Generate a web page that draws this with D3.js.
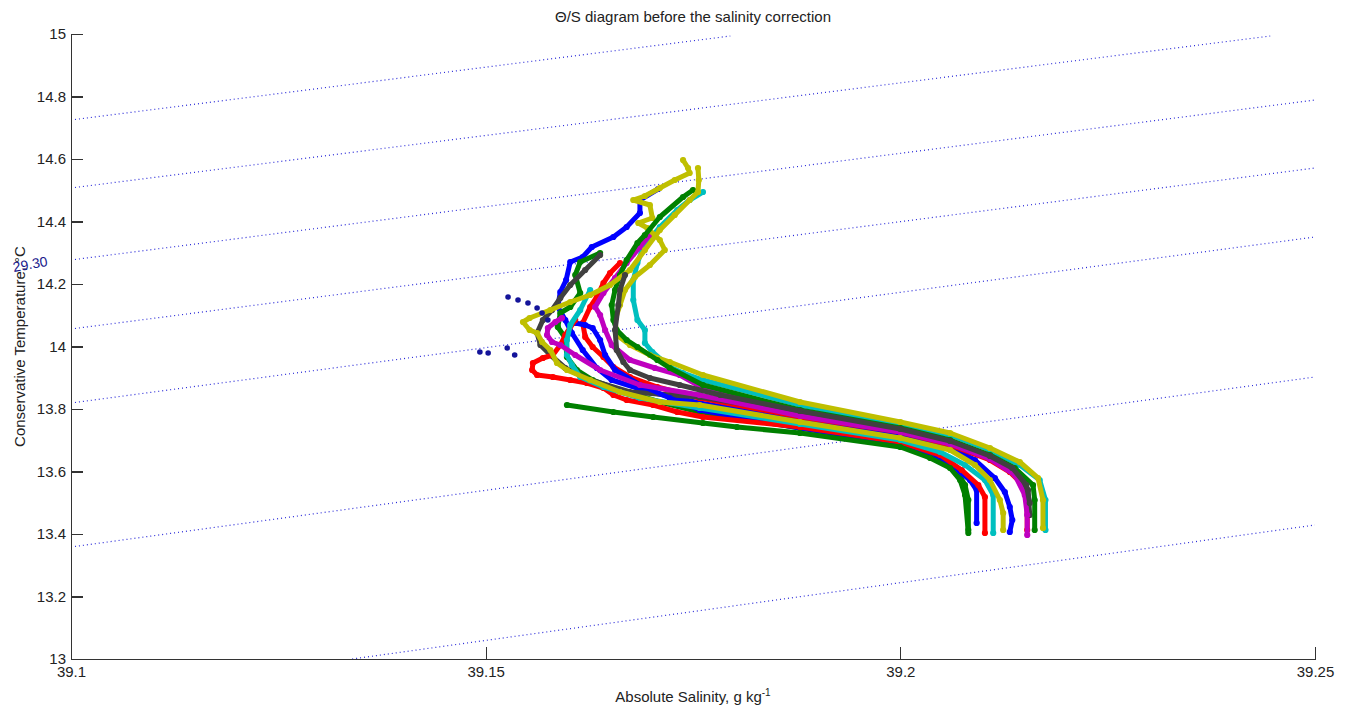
<!DOCTYPE html>
<html lang="en">

<head>
    <meta charset="UTF-8">
    <style type="text/css">
        body {
            margin: 0;
            background: #fff;
        }

        svg {
            display: block;
            font-family: "Liberation Sans", Arial, sans-serif;
        }

        .axis path,
        .axis line {
            fill: none;
            stroke: #333;
            stroke-width: 1.3;
            shape-rendering: crispEdges;
        }

        .axis text {
            font-family: "Liberation Sans", Arial, sans-serif;
            font-size: 15px;
            fill: #222;
        }

        .isopycnal {
            fill: none;
            stroke: #2a2ad8;
            stroke-width: 1.2;
            stroke-dasharray: 1, 3;
        }

        .profile {
            fill: none;
            stroke-width: 5;
            stroke-linejoin: round;
            stroke-linecap: round;
        }

        .label {
            font-size: 15px;
            fill: #222;
        }
    </style>
</head>

<body>
    <div class="main"></div>

    <script src="https://cdnjs.cloudflare.com/ajax/libs/d3/7.8.5/d3.min.js"></script>
    <script type="text/javascript">

        // axis ticks
        var xTicks = [39.1, 39.15, 39.2, 39.25];
        var yTicks = [13, 13.2, 13.4, 13.6, 13.8, 14, 14.2, 14.4, 14.6, 14.8, 15];

        // isopycnals [S, T] end points
        var isoA = [[39.1, 14.7248], [39.1795, 14.9936]];
        var isoB = [[39.1, 14.5072], [39.2446, 14.9936]];
        var isoC = [[39.1, 14.2768], [39.25, 14.7888]];
        var isoD = [[39.1, 14.0560], [39.25, 14.5712]];
        var isoE = [[39.1, 13.8192], [39.25, 14.3504]];
        var isoF = [[39.1, 13.3584], [39.25, 13.9024]];
        var isoG = [[39.1339, 13.0], [39.25, 13.4288]];
        var isoLabelPos = [39.0931, 14.2384];
        var isoLabelText = "29.30";

        // CTD profiles [S, T]
        var prof1 = [[39.1708, 14.5040], [39.1686, 14.4688], [39.1686, 14.4272], [39.1670, 14.3824], [39.1654, 14.3504], [39.1628, 14.3184], [39.1617, 14.2864], [39.1602, 14.2704], [39.1597, 14.2128], [39.1590, 14.1744], [39.1587, 14.1264], [39.1596, 14.0848], [39.1604, 14.0432], [39.1617, 13.9888], [39.1634, 13.9312], [39.1652, 13.8928], [39.1698, 13.8544], [39.1758, 13.8192], [39.1879, 13.7648], [39.2000, 13.7136], [39.2060, 13.6784], [39.2090, 13.6368], [39.2114, 13.5792], [39.2126, 13.5344], [39.2132, 13.4864], [39.2135, 13.4448], [39.2132, 13.4064]];
        var prof2 = [[39.1638, 14.2992], [39.1614, 14.2704], [39.1608, 14.2288], [39.1614, 14.1712], [39.1602, 14.1264], [39.1590, 14.1072], [39.1587, 14.0624], [39.1596, 14.0272], [39.1598, 13.9664], [39.1610, 13.9248], [39.1629, 13.8928], [39.1662, 13.8608], [39.1710, 13.8224], [39.1758, 13.7904], [39.1879, 13.7392], [39.2000, 13.6880], [39.2042, 13.6528], [39.2066, 13.6112], [39.2078, 13.5568], [39.2082, 13.5088], [39.2082, 13.4128]];
        var prof3 = [[39.1662, 14.2672], [39.1650, 14.2352], [39.1642, 14.2032], [39.1634, 14.1584], [39.1626, 14.1264], [39.1617, 14.0752], [39.1620, 14.0304], [39.1629, 13.9984], [39.1642, 13.9664], [39.1654, 13.9344], [39.1674, 13.9024], [39.1707, 13.8704], [39.1743, 13.8448], [39.1758, 13.8352], [39.1879, 13.7744], [39.2000, 13.7264], [39.2060, 13.6848], [39.2108, 13.6368], [39.2132, 13.5984], [39.2148, 13.5568], [39.2153, 13.5088], [39.2153, 13.4128]];
        var prof4 = [[39.1762, 14.4944], [39.1746, 14.4688], [39.1731, 14.4368], [39.1710, 14.3824], [39.1690, 14.3184], [39.1683, 14.2672], [39.1678, 14.2128], [39.1678, 14.1488], [39.1683, 14.0848], [39.1692, 14.0528], [39.1692, 14.0112], [39.1701, 13.9824], [39.1722, 13.9344], [39.1738, 13.9152], [39.1762, 13.8928], [39.1879, 13.8128], [39.2000, 13.7488], [39.2060, 13.7168], [39.2108, 13.6688], [39.2144, 13.6208], [39.2168, 13.5728], [39.2175, 13.5088], [39.2175, 13.4128]];
        var prof5 = [[39.1698, 14.3568], [39.1686, 14.3184], [39.1670, 14.2672], [39.1656, 14.2192], [39.1642, 14.1712], [39.1632, 14.1264], [39.1638, 14.1008], [39.1644, 14.0528], [39.1652, 14.0048], [39.1674, 13.9568], [39.1704, 13.9312], [39.1734, 13.9088], [39.1762, 13.8672], [39.1879, 13.7808], [39.2000, 13.7296], [39.2060, 13.6912], [39.2108, 13.6432], [39.2132, 13.6048], [39.2148, 13.5632], [39.2153, 13.5088], [39.2153, 13.3968]];
        var prof6 = [[39.1738, 14.5968], [39.1744, 14.5712], [39.1746, 14.5552], [39.1728, 14.5328], [39.1710, 14.5072], [39.1692, 14.4816], [39.1678, 14.4688], [39.1698, 14.4528], [39.1701, 14.4112], [39.1684, 14.3952], [39.1695, 14.3792], [39.1710, 14.3408], [39.1716, 14.3088], [39.1698, 14.2608], [39.1680, 14.2224], [39.1668, 14.1808], [39.1662, 14.1328], [39.1656, 14.0848], [39.1658, 14.0368], [39.1674, 14.0048], [39.1698, 13.9728], [39.1722, 13.9504], [39.1762, 13.9088], [39.1879, 13.8224], [39.2000, 13.7584], [39.2060, 13.7232], [39.2108, 13.6752], [39.2144, 13.6304], [39.2166, 13.5792], [39.2172, 13.5088], [39.2172, 13.4192]];
        var prof7 = [[39.1638, 14.2928], [39.1620, 14.2448], [39.1602, 14.1968], [39.1590, 14.1552], [39.1580, 14.1168], [39.1569, 14.0848], [39.1562, 14.0432], [39.1566, 14.0048], [39.1578, 13.9728], [39.1596, 13.9312], [39.1626, 13.8928], [39.1674, 13.8544], [39.1758, 13.8384], [39.1879, 13.7872], [39.2000, 13.7328], [39.2060, 13.6944], [39.2108, 13.6464], [39.2135, 13.6048], [39.2154, 13.5408], [39.2156, 13.4608]];
        var prof8 = [[39.1608, 14.0752], [39.1620, 14.0688], [39.1629, 14.0592], [39.1638, 14.0208], [39.1644, 13.9728], [39.1656, 13.9248], [39.1686, 13.8768], [39.1722, 13.8352], [39.1758, 13.7968], [39.1879, 13.7392], [39.2000, 13.6912], [39.2042, 13.6528], [39.2066, 13.6112], [39.2084, 13.5728], [39.2092, 13.5408], [39.2092, 13.4352]];
        var prof9 = [[39.1750, 14.5008], [39.1738, 14.4784], [39.1710, 14.4144], [39.1692, 14.3568], [39.1683, 14.3312], [39.1670, 14.2768], [39.1662, 14.2288], [39.1656, 14.1808], [39.1652, 14.1328], [39.1654, 14.0848], [39.1658, 14.0528], [39.1670, 14.0208], [39.1683, 13.9984], [39.1707, 13.9568], [39.1722, 13.9312], [39.1762, 13.8768], [39.1879, 13.7968], [39.2000, 13.7392], [39.2060, 13.7008], [39.2108, 13.6528], [39.2138, 13.6112], [39.2160, 13.5568], [39.2162, 13.5088], [39.2162, 13.4128]];
        var prof10 = [[39.1608, 14.0848], [39.1596, 14.0368], [39.1590, 14.0048], [39.1581, 13.9728], [39.1569, 13.9632], [39.1557, 13.9472], [39.1556, 13.9248], [39.1562, 13.9088], [39.1581, 13.9024], [39.1602, 13.8928], [39.1622, 13.8832], [39.1642, 13.8672], [39.1654, 13.8448], [39.1670, 13.8288], [39.1702, 13.8128], [39.1731, 13.7904], [39.1762, 13.7744], [39.1879, 13.7424], [39.2000, 13.6944], [39.2048, 13.6528], [39.2074, 13.6048], [39.2094, 13.5568], [39.2102, 13.5184], [39.2102, 13.4032]];
        var prof11 = [[39.1626, 14.1808], [39.1614, 14.1168], [39.1602, 14.0688], [39.1598, 14.0208], [39.1598, 13.9728], [39.1604, 13.9408], [39.1614, 13.9024], [39.1642, 13.8704], [39.1686, 13.8352], [39.1758, 13.8032], [39.1879, 13.7520], [39.2000, 13.7008], [39.2048, 13.6624], [39.2078, 13.6208], [39.2102, 13.5728], [39.2112, 13.5248], [39.2112, 13.4032]];
        var prof12 = [[39.1592, 14.0912], [39.1584, 14.0784], [39.1575, 14.0592], [39.1574, 14.0368], [39.1580, 14.0144], [39.1590, 14.0048], [39.1608, 13.9728], [39.1638, 13.9248], [39.1686, 13.8768], [39.1758, 13.8448], [39.1879, 13.7776], [39.2000, 13.7264], [39.2060, 13.6880], [39.2108, 13.6400], [39.2138, 13.5888], [39.2150, 13.5248], [39.2153, 13.4608]];
        var prof13 = [[39.1756, 14.5712], [39.1757, 14.5328], [39.1756, 14.4944], [39.1746, 14.4688], [39.1728, 14.4208], [39.1710, 14.3728], [39.1692, 14.3088], [39.1674, 14.2448], [39.1650, 14.1968], [39.1626, 14.1648], [39.1602, 14.1424], [39.1578, 14.1168], [39.1553, 14.0912], [39.1545, 14.0784], [39.1553, 14.0528], [39.1562, 14.0432], [39.1568, 14.0144], [39.1578, 13.9888], [39.1586, 13.9472], [39.1598, 13.9248], [39.1626, 13.8928], [39.1662, 13.8544], [39.1710, 13.8224], [39.1758, 13.8128], [39.1879, 13.7584], [39.2000, 13.7072], [39.2060, 13.6688], [39.2090, 13.6208], [39.2108, 13.5728], [39.2120, 13.5088], [39.2124, 13.4672], [39.2124, 13.4128]];
        var prof14 = [[39.1668, 14.2288], [39.1662, 14.1808], [39.1660, 14.1328], [39.1656, 14.0528], [39.1658, 13.9888], [39.1666, 13.9504], [39.1674, 13.9248], [39.1698, 13.8992], [39.1734, 13.8768], [39.1783, 13.8448], [39.1879, 13.7936], [39.2000, 13.7360], [39.2060, 13.6976], [39.2108, 13.6496], [39.2135, 13.6112], [39.2152, 13.5568], [39.2156, 13.4992]];
        var prof15 = [[39.1598, 13.8128], [39.1654, 13.7904], [39.1702, 13.7744], [39.1762, 13.7552], [39.1803, 13.7424], [39.1879, 13.7232], [39.2000, 13.6784], [39.2036, 13.6432], [39.2060, 13.6112], [39.2072, 13.5728], [39.2078, 13.5248], [39.2082, 13.4032]];

        // scattered surface points (no line)
        var surfaceDots = [[39.1527, 14.1584], [39.1539, 14.1488], [39.1551, 14.1392], [39.1562, 14.1232], [39.1568, 14.1072], [39.1575, 14.0848], [39.1493, 13.9824], [39.1503, 13.9792], [39.1526, 13.9952], [39.1535, 13.9728]];

        // matlab style colours, one per profile
        var profileColors = ["#0000ff", "#008000", "#ff0000", "#00bfbf", "#bf00bf", "#bfbf00", "#404040",
            "#0000ff", "#008000", "#ff0000", "#00bfbf", "#bf00bf", "#bfbf00", "#404040", "#008000"];

        var isopycnals = [isoA, isoB, isoC, isoD, isoE, isoF, isoG];
        var profiles = [prof1, prof2, prof3, prof4, prof5, prof6, prof7, prof8, prof9, prof10, prof11, prof12, prof13, prof14, prof15];

        var margin = { top: 34, right: 31, bottom: 49, left: 71 },
            width = 1346 - margin.left - margin.right,
            height = 708 - margin.top - margin.bottom;

        var svg = d3.select(".main").append("svg")
            .attr("width", width + margin.left + margin.right)
            .attr("height", height + margin.top + margin.bottom)
            .append("g")
            .attr("transform", "translate(" + margin.left + "," + margin.top + ")");

        var x = d3.scaleLinear().domain([39.1, 39.25]).range([0, width]);
        var y = d3.scaleLinear().domain([13, 15]).range([height, 0]);

        var line = d3.line()
            .x(function (d) { return x(d[0]); })
            .y(function (d) { return y(d[1]); });

        // isopycnals
        svg.selectAll(".isopycnal")
            .data(isopycnals)
            .enter().append("path")
            .attr("class", "isopycnal")
            .attr("d", line);

        // profiles, line under the dot markers
        var prof = svg.selectAll(".prof")
            .data(profiles)
            .enter().append("g")
            .attr("class", "prof")
            .style("fill", function (d, i) { return profileColors[i]; })
            .style("stroke", function (d, i) { return profileColors[i]; });

        prof.append("path")
            .attr("class", "profile")
            .attr("d", line);

        prof.selectAll("circle")
            .data(function (d) { return d; })
            .enter().append("circle")
            .attr("cx", function (d) { return x(d[0]); })
            .attr("cy", function (d) { return y(d[1]); })
            .attr("r", 3.1)
            .style("stroke", "none");

        svg.selectAll(".sdot")
            .data(surfaceDots)
            .enter().append("circle")
            .attr("class", "sdot")
            .attr("cx", function (d) { return x(d[0]); })
            .attr("cy", function (d) { return y(d[1]); })
            .attr("r", 2.8)
            .style("fill", "#14149a");

        // axes, ticks point inward
        var xAxis = d3.axisBottom(x)
            .tickValues(xTicks)
            .tickSizeInner(-12)
            .tickSizeOuter(0)
            .tickPadding(7)
            .tickFormat(function (d) { return String(+d.toFixed(2)); });

        var yAxis = d3.axisLeft(y)
            .tickValues(yTicks)
            .tickSizeInner(-12)
            .tickSizeOuter(0)
            .tickPadding(5)
            .tickFormat(function (d) { return String(+d.toFixed(1)); });

        svg.append("g")
            .attr("class", "axis")
            .attr("transform", "translate(0," + height + ")")
            .call(xAxis);

        svg.append("g")
            .attr("class", "axis")
            .call(yAxis);

        // titles
        svg.append("text")
            .attr("class", "label")
            .attr("x", width / 2)
            .attr("y", -12)
            .attr("text-anchor", "middle")
            .text("\u0398/S diagram before the salinity correction");

        var xl = svg.append("text")
            .attr("class", "label")
            .attr("x", width / 2)
            .attr("y", height + 43)
            .attr("text-anchor", "middle")
            .text("Absolute Salinity, g kg");
        xl.append("tspan")
            .attr("dy", -6)
            .style("font-size", "10px")
            .text("-1");

        svg.append("text")
            .attr("class", "label")
            .attr("transform", "rotate(-90)")
            .attr("x", -height / 2)
            .attr("y", -46)
            .attr("text-anchor", "middle")
            .text("Conservative Temperature, \u00b0C");

        // contour label
        svg.append("text")
            .attr("x", x(isoLabelPos[0]))
            .attr("y", y(isoLabelPos[1]))
            .attr("transform", "rotate(-10," + x(isoLabelPos[0]) + "," + y(isoLabelPos[1]) + ")")
            .style("font-size", "14px")
            .style("fill", "#1a1a8c")
            .text(isoLabelText);

    </script>
</body>

</html>
